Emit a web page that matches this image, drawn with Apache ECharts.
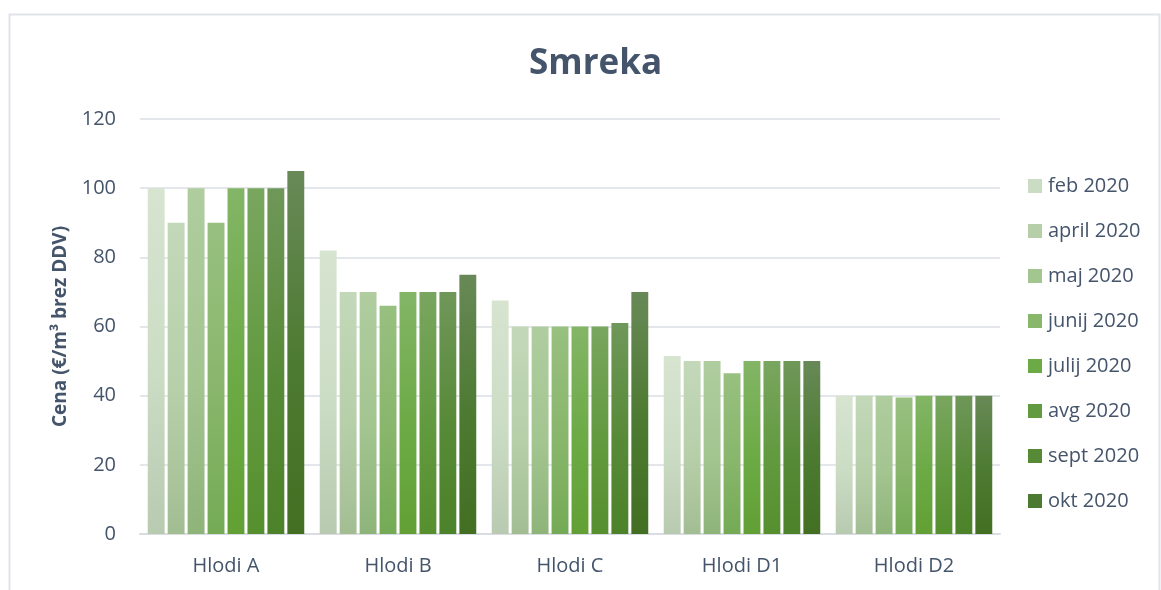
<!DOCTYPE html>
<html>
<head>
<meta charset="utf-8">
<script src="https://cdn.jsdelivr.net/npm/echarts@6/dist/echarts.min.js"></script>
<style>
  html, body { margin: 0; padding: 0; background: #fff; }
  #chart { width: 1161px; height: 590px; }
</style>
</head>
<body>
<div id="chart"></div>
<script>
// kategorije in vrednosti
const categories = ['Hlodi A', 'Hlodi B', 'Hlodi C', 'Hlodi D1', 'Hlodi D2']
const months = ['feb 2020', 'april 2020', 'maj 2020', 'junij 2020', 'julij 2020', 'avg 2020', 'sept 2020', 'okt 2020']
const feb2020 = [100, 82, 67.5, 51.5, 40]
const apr2020 = [90, 70, 60, 50, 40]
const maj2020 = [100, 70, 60, 50, 40]
const jun2020 = [90, 66, 60, 46.5, 39.5]
const jul2020 = [100, 70, 60, 50, 40]
const avg2020 = [100, 70, 60, 50, 40]
const sep2020 = [100, 70, 61, 50, 40]
const okt2020 = [105, 75, 70, 50, 40]
const seriesValues = [feb2020, apr2020, maj2020, jun2020, jul2020, avg2020, sep2020, okt2020]
const yTicks = [0, 20, 40, 60, 80, 100, 120]

// barve: zgoraj / spodaj / legenda
const topColors = ['#d7e4d0', '#c3d8b9', '#afcd9f', '#98c080', '#83b566', '#79a65f', '#6f9759', '#688957']
const bottomColors = ['#b8cab0', '#a3bd93', '#8eb47a', '#74aa55', '#62a035', '#568f2e', '#4c8229', '#426f22']
const legendColors = ['#cbdcc4', '#b6cfa9', '#a3c590', '#88b66b', '#6caa45', '#629a3f', '#578a37', '#4c7a30']

const textColor = '#44546a'
const font = '"Open Sans", Lato, sans-serif'

const chart = echarts.init(document.getElementById('chart'))

const series = months.map((name, i) => ({
  name,
  type: 'bar',
  data: seriesValues[i],
  barGap: '18%',
  barCategoryGap: '9%',
  itemStyle: {
    color: new echarts.graphic.LinearGradient(0, 0, 0, 1, [
      { offset: 0, color: topColors[i] },
      { offset: 0.55, color: legendColors[i] },
      { offset: 1, color: bottomColors[i] }
    ])
  }
}))

chart.setOption({
  backgroundColor: '#fff',
  animation: false,
  graphic: [{
    type: 'rect',
    shape: { x: 9.5, y: 14.5, width: 1150, height: 620 },
    style: { fill: 'none', stroke: '#e1e4e9', lineWidth: 2 },
    silent: true,
    z: -1
  }],
  title: {
    text: 'Smreka',
    left: 524,
    top: 42,
    textStyle: {
      color: textColor,
      fontFamily: font,
      fontSize: 35,
      fontWeight: 'bold'
    }
  },
  legend: {
    orient: 'vertical',
    left: 1023,
    top: 170,
    itemWidth: 14,
    itemHeight: 14,
    itemGap: 23,
    icon: 'rect',
    data: months.map((m, i) => ({ name: m, itemStyle: { color: legendColors[i] } })),
    textStyle: {
      color: textColor,
      fontFamily: font,
      fontSize: 20,
      lineHeight: 22,
      padding: [0, 0, 0, 1]
    }
  },
  grid: {
    left: 140,
    right: 161,
    top: 119,
    bottom: 56,
    containLabel: false
  },
  xAxis: {
    type: 'category',
    data: categories,
    axisLine: { lineStyle: { color: '#d9dde3', width: 2 } },
    axisTick: { show: false },
    axisLabel: {
      color: textColor,
      fontFamily: font,
      fontSize: 20,
      margin: 22
    }
  },
  yAxis: {
    type: 'value',
    min: yTicks[0],
    max: yTicks[yTicks.length - 1],
    interval: 20,
    name: 'Cena (€/m³ brez DDV)',
    nameLocation: 'middle',
    nameGap: 70,
    nameTextStyle: {
      color: textColor,
      fontFamily: font,
      fontSize: 19,
      fontWeight: 'bold'
    },
    axisLine: { show: false },
    axisTick: { show: false },
    axisLabel: {
      color: textColor,
      fontFamily: font,
      fontSize: 20,
      margin: 24
    },
    splitLine: { lineStyle: { color: '#e3e6ea', width: 2 } }
  },
  series
})
</script>
</body>
</html>
